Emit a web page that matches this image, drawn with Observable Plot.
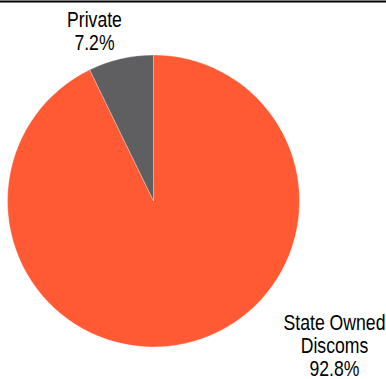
<!DOCTYPE html>
<html>
<head>
<meta charset="utf-8">
<script src="https://cdn.jsdelivr.net/npm/d3@7"></script>
<script src="https://cdn.jsdelivr.net/npm/@observablehq/plot@0.6"></script>
<style>
  html, body { margin: 0; padding: 0; background: #fff; }
  svg { display: block; }
</style>
</head>
<body>
<div id="chart"></div>
<script>
const categories = ["State Owned Discoms", "Private"];
const labelLines = [["State Owned", "Discoms"], ["Private"]];
const shares = [92.8, 7.2];
const colors = ["#FF5A33", "#5F5F61"];

const W = 386, H = 379;
const cx = 153.5, cy = 201, R = 146;

const data = categories.map((c, i) => ({name: c, value: shares[i], color: colors[i], lines: labelLines[i]}));

// angles: start at top, clockwise
const pie = d3.pie().value(d => d.value).sort(null)(data);

// label anchor positions (pixel space)
const labelPos = [
  {x: 334, y: 329},  // State Owned
  {x: 94, y: 26}     // Private
];
const lineH = 23;
const labelRows = [];
data.forEach((d, i) => {
  const rows = [...d.lines, d.value.toFixed(1) + "%"];
  rows.forEach((t, j) => labelRows.push({x: labelPos[i].x, y: labelPos[i].y + j * lineH, text: t}));
});

const pieMark = (index, scales) => {
  const g = d3.create("svg:g");
  const px = scales.x(cx), py = scales.y(cy);
  const arc = d3.arc().innerRadius(0).outerRadius(Math.abs(scales.x(cx + R) - scales.x(cx)));
  g.selectAll("path")
    .data(pie)
    .join("path")
    .attr("transform", `translate(${px},${py})`)
    .attr("d", arc)
    .attr("fill", d => d.data.color)
    .attr("stroke", "#fff")
    .attr("stroke-width", 0.3);
  return g.node();
};

const chart = Plot.plot({
  width: W,
  height: H,
  margin: 0,
  x: {domain: [0, W], axis: null},
  y: {domain: [0, H], axis: null, reverse: true},
  style: {fontFamily: "'Liberation Sans Narrow', 'Liberation Sans', Arial, sans-serif", background: "#fff"},
  marks: [
    pieMark,
    Plot.ruleY([1], {stroke: "#000", strokeWidth: 2}),
    Plot.text(labelRows, {x: "x", y: "y", text: "text", fontSize: 21.5, fill: "#000", lineAnchor: "bottom", textAnchor: "middle"})
  ]
});

// emulate a narrow (condensed) face: squeeze each label horizontally around its anchor
d3.select(chart).selectAll("text").each(function() {
  const el = this;
  const x = +el.getAttribute("x") || 0, y = +el.getAttribute("y") || 0;
  const t = el.getAttribute("transform") || "";
  el.removeAttribute("x"); el.removeAttribute("y");
  el.setAttribute("transform", `${t} translate(${x},${y}) scale(0.82,1)`);
});

document.getElementById("chart").appendChild(chart);
</script>
</body>
</html>
